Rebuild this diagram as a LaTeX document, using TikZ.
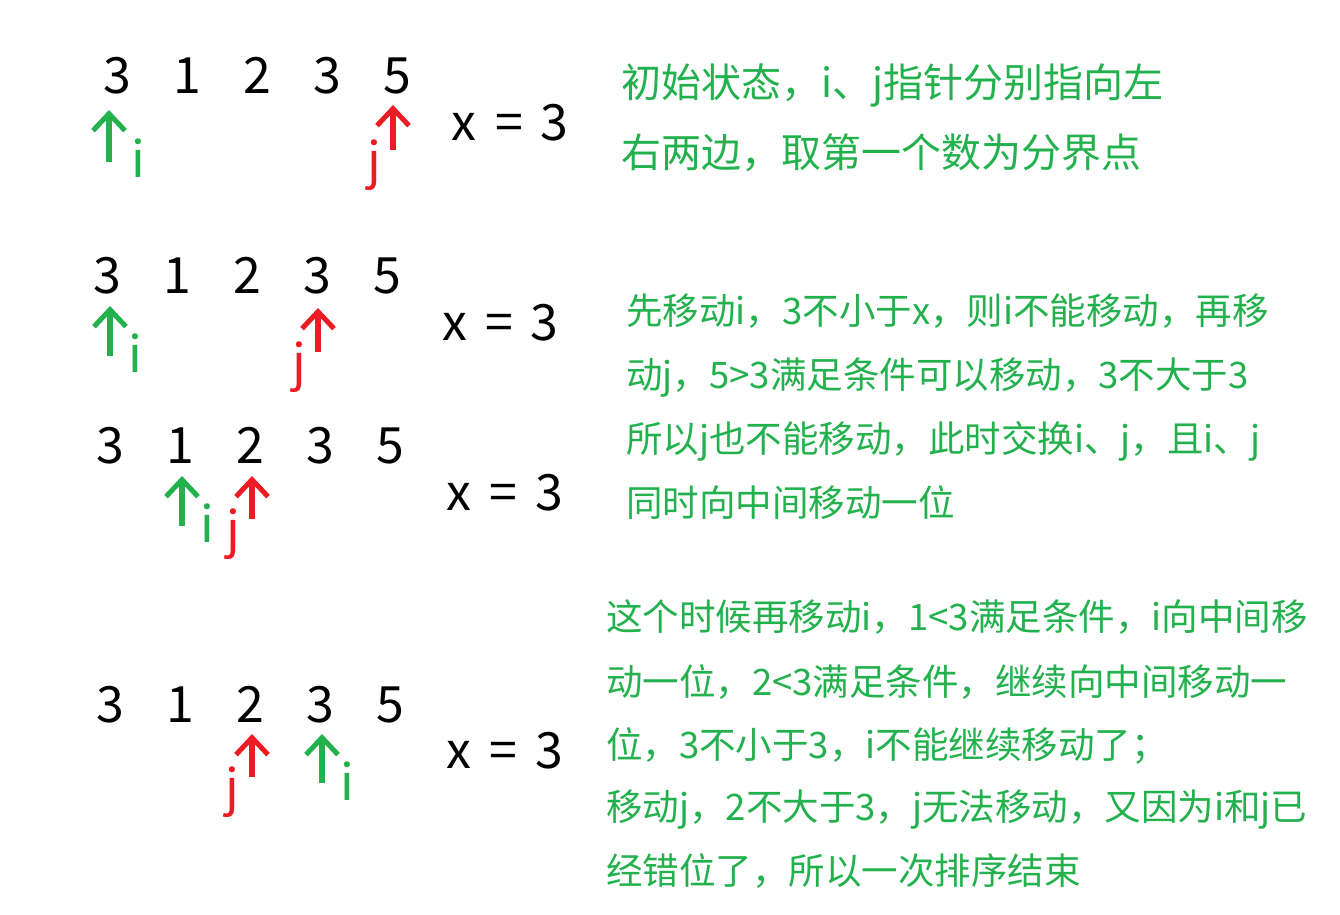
\documentclass[tikz,border=0pt]{standalone}
\usepackage{fontspec}
\setmainfont{Noto Sans CJK SC}
\usetikzlibrary{arrows.meta}
\definecolor{pgreen}{HTML}{22B14C}
\definecolor{pred}{HTML}{ED1C24}
\tikzset{
  num/.style={anchor=base, inner sep=0pt, font=\fontsize{50}{60}\selectfont},
  ilab/.style={num, text=pgreen},
  jlab/.style={num, text=pred},
  note/.style={anchor=base west, inner sep=0pt, text=pgreen, font=\fontsize{36.5}{40}\selectfont},
  bignote/.style={note, font=\fontsize{40}{44}\selectfont},
  ptr/.style={line width=6pt, -{Straight Barb[length=17pt,width=32pt,line width=5pt]}},
  iptr/.style={ptr, draw=pgreen},
  jptr/.style={ptr, draw=pred},
}
\begin{document}
\begin{tikzpicture}[x=1pt,y=-1pt]
\useasboundingbox (0,0) rectangle (1340,914);
\fill[white] (0,0) rectangle (1340,914);

% ---------- Row 1 ----------
\foreach \v [count=\k] in {3,1,2,3,5}
  \node[num] (a\k) at ({117+70*(\k-1)},93) {\v};
\node[num] (ax) at (464,140) {x};
\node[num] (ae) at (509,140) {=};
\node[num] (av) at (554,140) {3};
\coordinate (aib) at (109,162); \coordinate (ait) at (109,110);
\coordinate (ajb) at (393,150); \coordinate (ajt) at (393,105);
\draw[iptr] (aib) -- (ait);
\draw[jptr] (ajb) -- (ajt);
\node[ilab] (ai) at (138,177) {i};
\node[jlab] (aj) at (374,178) {j};
\node[bignote] (an1) at (621,97) {初始状态，i、j指针分别指向左};
\node[bignote] (an2) at (621,167) {右两边，取第一个数为分界点};

% ---------- Row 2 ----------
\foreach \v [count=\k] in {3,1,2,3,5}
  \node[num] (b\k) at ({107+70*(\k-1)},293) {\v};
\node[num] (bx) at (455,340) {x};
\node[num] (be) at (499,340) {=};
\node[num] (bv) at (544,340) {3};
\coordinate (bib) at (110,356); \coordinate (bit) at (110,306);
\coordinate (bjb) at (318,352); \coordinate (bjt) at (318,308);
\draw[iptr] (bib) -- (bit);
\draw[jptr] (bjb) -- (bjt);
\node[ilab] (bi) at (135,372) {i};
\node[jlab] (bj) at (299,380) {j};

% ---------- Row 3 ----------
\foreach \v [count=\k] in {3,1,2,3,5}
  \node[num] (c\k) at ({110+70*(\k-1)},463) {\v};
\node[num] (cx) at (459,510) {x};
\node[num] (ce) at (503,510) {=};
\node[num] (cv) at (549,510) {3};
\coordinate (cib) at (182,526); \coordinate (cit) at (182,476);
\coordinate (cjb) at (252,519); \coordinate (cjt) at (252,476);
\draw[iptr] (cib) -- (cit);
\draw[jptr] (cjb) -- (cjt);
\node[ilab] (ci) at (207,542) {i};
\node[jlab] (cj) at (233,547) {j};

\node[note] (bn1) at (626,324) {先移动i，3不小于x，则i不能移动，再移};
\node[note] (bn2) at (626,388) {动j，5>3满足条件可以移动，3不大于3};
\node[note] (bn3) at (626,452) {所以j也不能移动，此时交换i、j，且i、j};
\node[note] (bn4) at (626,516) {同时向中间移动一位};

% ---------- Row 4 ----------
\foreach \v [count=\k] in {3,1,2,3,5}
  \node[num] (d\k) at ({110+70*(\k-1)},722) {\v};
\node[num] (dx) at (459,768) {x};
\node[num] (de) at (503,768) {=};
\node[num] (dv) at (549,768) {3};
\coordinate (djb) at (252,777); \coordinate (djt) at (252,734);
\coordinate (dib) at (322,783); \coordinate (dit) at (322,734);
\draw[jptr] (djb) -- (djt);
\draw[iptr] (dib) -- (dit);
\node[jlab] (dj) at (232,805) {j};
\node[ilab] (di) at (347,800) {i};

\node[note] (dn1) at (606,630) {这个时候再移动i，1<3满足条件，i向中间移};
\node[note] (dn2) at (606,695) {动一位，2<3满足条件，继续向中间移动一};
\node[note] (dn3) at (606,758) {位，3不小于3，i不能继续移动了；};
\node[note] (dn4) at (606,820) {移动j，2不大于3，j无法移动，又因为i和j已};
\node[note] (dn5) at (606,884) {经错位了，所以一次排序结束};
\end{tikzpicture}
\end{document}
